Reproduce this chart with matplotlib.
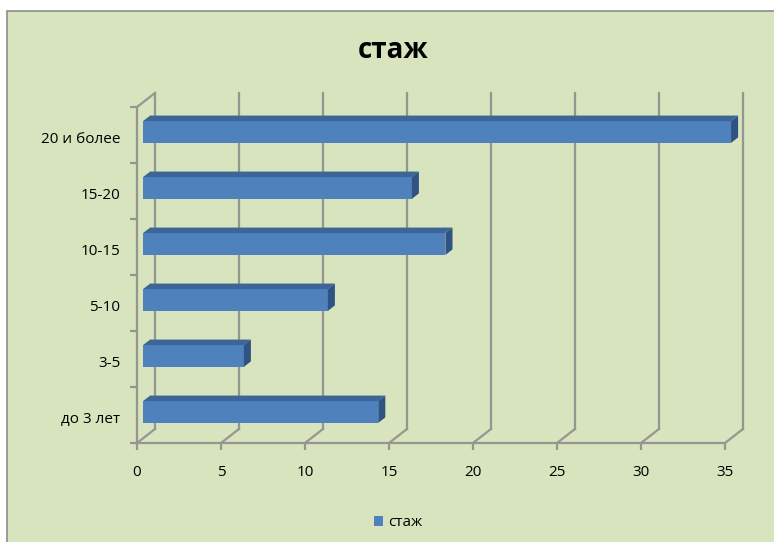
import matplotlib.pyplot as plt
from matplotlib.patches import Rectangle, Polygon

plt.rcParams['font.family'] = ['Open Sans', 'DejaVu Sans']

categories = ['до 3 лет', '3-5', '5-10', '10-15', '15-20', '20 и более']
values = [14, 6, 11, 18, 16, 35]
x_ticks = [0, 5, 10, 15, 20, 25, 30, 35]
series_name = 'стаж'

bg = '#d7e4bd'
grid_col = '#969690'
front_col = '#4f81bd'
top_col = '#3d6697'
side_col = '#2f5483'

# depth of the "3d" walls and bars, in data units
DX, DY = 1.07, 0.25
ox, oy = 0.36, 0.054
bh = 0.39
ddx, ddy = 0.42, 0.098

fig = plt.figure(figsize=(7.74, 5.42), dpi=100)
fig.patch.set_facecolor('white')
fig.patches.append(Rectangle((7 / 774, -0.05), 1.1, 1 - 11 / 542 + 0.05,
                             transform=fig.transFigure, facecolor=bg,
                             edgecolor='#8c8c8c', linewidth=1.2, zorder=-10))

ax = fig.add_axes([137 / 774, 1 - 443 / 542, 588 / 774, 336 / 542])
ax.set_zorder(5)
ax.set_facecolor('none')
ax.set_xlim(0, 35)
ax.set_ylim(-0.5, 5.5)
for s in ['top', 'right', 'left']:
    ax.spines[s].set_visible(False)
ax.spines['bottom'].set_color(grid_col)
ax.spines['bottom'].set_linewidth(1.6)

# walls and floor lines
for x in x_ticks:
    ax.plot([x, x + DX], [-0.5, -0.5 + DY], color=grid_col, lw=1.6, clip_on=False, zorder=1)
    ax.plot([x + DX, x + DX], [-0.5 + DY, 5.5 + DY], color=grid_col, lw=1.6, clip_on=False, zorder=1)
ax.plot([0, 0], [-0.5, 5.5], color=grid_col, lw=1.6, clip_on=False, zorder=1)
ax.plot([0, DX], [5.5, 5.5 + DY], color=grid_col, lw=1.6, clip_on=False, zorder=1)

# bars
ypos = [i + oy for i in range(len(values))]
bars = ax.barh(ypos, values, height=bh, left=ox, color=front_col, zorder=3, label=series_name)
for b in bars:
    b.set_clip_on(False)
for y, v in zip(ypos, values):
    x0, x1 = ox, ox + v
    y0, y1 = y - bh / 2, y + bh / 2
    ax.add_patch(Polygon([(x0, y1), (x1, y1), (x1 + ddx, y1 + ddy), (x0 + ddx, y1 + ddy)],
                         closed=True, facecolor=top_col, edgecolor='none', zorder=3, clip_on=False))
    ax.add_patch(Polygon([(x1, y0), (x1 + ddx, y0 + ddy), (x1 + ddx, y1 + ddy), (x1, y1)],
                         closed=True, facecolor=side_col, edgecolor='none', zorder=3, clip_on=False))

ax.set_xticks(x_ticks)
ax.set_xticklabels([str(t) for t in x_ticks], fontsize=11)
ax.tick_params(axis='x', direction='out', length=5, width=1.6, color=grid_col, pad=11)

ax.set_yticks([i - 0.5 for i in range(len(categories) + 1)])
ax.set_yticklabels([])
ax.tick_params(axis='y', direction='out', length=5, width=1.6, color=grid_col)
ax.set_yticks([i - 0.045 for i in range(len(categories))], minor=True)
ax.set_yticklabels(categories, minor=True, fontsize=11)
ax.tick_params(axis='y', which='minor', length=0, pad=12)

fig.text(393 / 774, 1 - 50 / 542, 'стаж', fontsize=20, fontweight='bold',
         ha='center', va='center')

fig.legend(loc='center', bbox_to_anchor=(398 / 774, 1 - 523 / 542), frameon=False,
           fontsize=11, handlelength=0.6, handleheight=0.6, handletextpad=0.3)

fig.savefig('out.png', dpi=100, facecolor=fig.get_facecolor())
